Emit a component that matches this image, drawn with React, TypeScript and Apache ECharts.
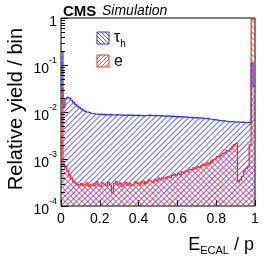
import React, { useEffect, useRef } from 'react';
import * as echarts from 'echarts';

// 100 bins of width 0.01 on E_ECAL / p from 0 to 1
const binWidth = 0.01;

const tauValues: number[] = [
  0.19, 0.0125, 0.019, 0.0205, 0.0195, 0.0178, 0.016, 0.0146, 0.0134, 0.0124,
  0.0116, 0.011, 0.0104, 0.0100, 0.0097, 0.0094, 0.0093, 0.0091, 0.0090, 0.0089,
  0.0090, 0.0088, 0.0089, 0.0087, 0.0088, 0.0089, 0.0087, 0.0086, 0.0088, 0.0087,
  0.0086, 0.0087, 0.0085, 0.0086, 0.0087, 0.0085, 0.0086, 0.0084, 0.0085, 0.0086,
  0.0084, 0.0085, 0.0083, 0.0084, 0.0085, 0.0086, 0.0085, 0.0084, 0.0085, 0.0084,
  0.0083, 0.0084, 0.0082, 0.0083, 0.0082, 0.0083, 0.0081, 0.0082, 0.0080, 0.0081,
  0.0079, 0.0080, 0.0079, 0.0078, 0.0079, 0.0077, 0.0076, 0.0077, 0.0075, 0.0076,
  0.0075, 0.0074, 0.0075, 0.0073, 0.0072, 0.0073, 0.0071, 0.0070, 0.0069, 0.0068,
  0.0067, 0.0066, 0.0065, 0.0066, 0.0064, 0.0063, 0.0062, 0.0063, 0.0062, 0.0061,
  0.0062, 0.0061, 0.0060, 0.0061, 0.0060, 0.0059, 0.0060, 0.0060, 0.11, 0.035,
];

const eValues: number[] = [
  0.032, 7.5e-4, 7.0e-4, 5.6e-4, 4.6e-4, 3.9e-4, 3.3e-4, 3.1e-4, 2.9e-4, 2.8e-4,
  3.0e-4, 2.7e-4, 2.9e-4, 3.1e-4, 2.6e-4, 2.9e-4, 3.0e-4, 2.7e-4, 3.3e-4, 2.8e-4,
  2.6e-4, 3.1e-4, 2.9e-4, 2.7e-4, 3.2e-4, 2.8e-4, 1.9e-4, 3.0e-4, 3.3e-4, 2.8e-4,
  3.1e-4, 2.6e-4, 2.9e-4, 3.2e-4, 2.8e-4, 3.0e-4, 2.7e-4, 2.9e-4, 3.3e-4, 3.1e-4,
  2.8e-4, 3.2e-4, 3.4e-4, 3.0e-4, 3.3e-4, 3.6e-4, 3.4e-4, 3.2e-4, 3.7e-4, 3.5e-4,
  3.9e-4, 3.6e-4, 4.0e-4, 3.8e-4, 4.1e-4, 4.3e-4, 4.0e-4, 4.5e-4, 4.8e-4, 4.4e-4,
  5.0e-4, 4.7e-4, 5.3e-4, 5.1e-4, 5.6e-4, 5.4e-4, 6.0e-4, 5.8e-4, 6.5e-4, 6.2e-4,
  6.9e-4, 6.6e-4, 7.2e-4, 7.8e-4, 7.4e-4, 8.3e-4, 8.0e-4, 9.0e-4, 9.6e-4, 1.0e-3,
  1.12e-3, 1.1e-3, 1.2e-3, 1.3e-3, 1.35e-3, 1.5e-3, 1.45e-3, 1.65e-3, 1.85e-3, 2.05e-3,
  2.15e-3, 3.3e-4, 3.6e-4, 4.3e-4, 5.5e-4, 6.2e-4, 6.8e-4, 2.0e-3, 0.95, 0.95,
];

const xTicks = [0, 0.2, 0.4, 0.6, 0.8, 1];
const yMinorMultipliers = [2, 3, 4, 5, 6, 7, 8, 9];
const yDecades = [1e-4, 1e-3, 1e-2, 1e-1];

const FONT = 'Liberation Sans';
const BLUE = '#2b2bff';
const RED = '#ff2020';

function histPoints(vals: number[]) {
  const pts: number[][] = vals.map((v, i) => [+(i * binWidth).toFixed(2), v]);
  pts.push([+(vals.length * binWidth).toFixed(2), vals[vals.length - 1]]);
  return pts;
}

function hatch(x0: number, y0: number, w: number, h: number, s: number, dir: 'back' | 'fwd', color: string) {
  const out: any[] = [];
  for (let c = -h; c <= w; c += s) {
    const tmin = Math.max(0, -c);
    const tmax = Math.min(h, w - c);
    if (tmax - tmin <= 0.2) continue;
    const xa = x0 + c + tmin;
    const xb = x0 + c + tmax;
    const ya = dir === 'back' ? y0 + tmin : y0 + h - tmin;
    const yb = dir === 'back' ? y0 + tmax : y0 + h - tmax;
    out.push({
      type: 'line',
      shape: { x1: xa, y1: ya, x2: xb, y2: yb },
      style: { stroke: color, lineWidth: 0.8 },
      silent: true,
    });
  }
  return out;
}

export default function App() {
  const ref = useRef<HTMLDivElement>(null);
  useEffect(() => {
    if (!ref.current) return;
    const chart = echarts.init(ref.current, null, { renderer: 'svg' });
    const yMinor: number[][] = [];
    yDecades.forEach((d) => yMinorMultipliers.forEach((m) => yMinor.push([0, d * m])));

    const legendBlue = { x: 97, y: 32, w: 12, h: 12 };
    const legendRed = { x: 97, y: 55, w: 12, h: 12 };

    chart.setOption({
      animation: false,
      grid: {
        left: 61, top: 18, width: 194, height: 188,
        show: true, borderColor: '#000', borderWidth: 1,
        outerBoundsMode: 'none',
      },
      xAxis: {
        type: 'value', min: 0, max: 1, interval: 0.2,
        axisLine: { show: false },
        axisTick: { show: true, inside: true, length: 6, lineStyle: { color: '#000' } },
        splitLine: { show: false },
        axisLabel: {
          color: '#000', fontSize: 14, fontFamily: FONT, margin: 5,
          formatter: (v: number) => (xTicks.indexOf(+v.toFixed(1)) >= 0 ? String(+v.toFixed(1)) : ''),
        },
      },
      yAxis: {
        type: 'log', min: 1e-4, max: 1, logBase: 10,
        axisLine: { show: false },
        axisTick: { show: true, inside: true, length: 7, lineStyle: { color: '#000' } },
        splitLine: { show: false },
        axisLabel: {
          color: '#000', margin: 4,
          formatter: (v: number) => {
            const e = Math.round(Math.log10(v));
            return e === 0 ? '{b|1}' : `{b|10}{s|${e}}`;
          },
          rich: {
            b: { fontSize: 14, fontFamily: FONT, color: '#000', lineHeight: 19, verticalAlign: 'bottom' },
            s: { fontSize: 9, fontFamily: FONT, color: '#000', verticalAlign: 'top' },
          },
        },
      },
      series: [
        {
          type: 'line', name: 'tau', step: 'end', symbol: 'none',
          data: histPoints(tauValues),
          lineStyle: { color: BLUE, width: 1.2 },
          itemStyle: {
            color: BLUE,
            decal: {
              symbol: 'rect', symbolSize: 1, dashArrayX: [1, 0], dashArrayY: [1, 2.7],
              rotation: -Math.PI / 4, color: 'rgba(40,40,255,0.7)', backgroundColor: null,
            },
          },
          areaStyle: { origin: 'start', color: 'rgba(0,0,0,0)', opacity: 1 },
          z: 2,
        },
        {
          type: 'line', name: 'e', step: 'end', symbol: 'none',
          data: histPoints(eValues),
          lineStyle: { color: RED, width: 1.2 },
          itemStyle: {
            color: RED,
            decal: {
              symbol: 'rect', symbolSize: 1, dashArrayX: [1, 0], dashArrayY: [1, 2.7],
              rotation: Math.PI / 4, color: 'rgba(255,40,40,0.7)', backgroundColor: null,
            },
          },
          areaStyle: { origin: 'start', color: 'rgba(0,0,0,0)', opacity: 1 },
          z: 3,
        },
        {
          type: 'custom', name: 'yMinorTicks', data: yMinor, z: 5, silent: true,
          renderItem: (params: any, api: any) => {
            const p = api.coord([0, api.value(1)]);
            const y = Math.round(p[1]) + 0.5;
            return {
              type: 'line',
              shape: { x1: p[0], y1: y, x2: p[0] + 4, y2: y },
              style: { stroke: '#000', lineWidth: 1 },
            };
          },
        },
      ],
      graphic: [
        {
          type: 'text', x: 63, y: 10,
          style: { text: 'CMS', fontSize: 15, fontWeight: 'bold', fontFamily: FONT, fill: '#000', textAlign: 'left', textVerticalAlign: 'middle' },
        },
        {
          type: 'text', x: 102, y: 10,
          style: { text: 'Simulation', fontSize: 14, fontStyle: 'italic', fontFamily: FONT, fill: '#000', textAlign: 'left', textVerticalAlign: 'middle' },
        },
        {
          type: 'text', x: 15, y: 109, rotation: Math.PI / 2,
          style: { text: 'Relative yield / bin', fontSize: 20, fontFamily: FONT, fill: '#000', textAlign: 'center', textVerticalAlign: 'middle' },
        },
        {
          type: 'text', x: 254, y: 245,
          style: {
            text: '{a|E}{b|ECAL}{a| / p}',
            textAlign: 'right', textVerticalAlign: 'middle',
            rich: {
              a: { fontSize: 18, fontFamily: FONT, color: '#000', lineHeight: 21, verticalAlign: 'top' },
              b: { fontSize: 11, fontFamily: FONT, color: '#000', verticalAlign: 'bottom' },
            },
          },
        },
        {
          type: 'rect', shape: { x: legendBlue.x, y: legendBlue.y, width: legendBlue.w, height: legendBlue.h },
          style: { fill: 'none', stroke: BLUE, lineWidth: 1 },
        },
        ...hatch(legendBlue.x, legendBlue.y, legendBlue.w, legendBlue.h, 4, 'back', BLUE),
        {
          type: 'rect', shape: { x: legendRed.x, y: legendRed.y, width: legendRed.w, height: legendRed.h },
          style: { fill: 'none', stroke: RED, lineWidth: 1 },
        },
        ...hatch(legendRed.x, legendRed.y, legendRed.w, legendRed.h, 4, 'fwd', RED),
        {
          type: 'text', x: 114, y: 38,
          style: {
            text: '{a|τ}{b|h}', textAlign: 'left', textVerticalAlign: 'middle',
            rich: {
              a: { fontSize: 16, fontFamily: FONT, color: '#000', lineHeight: 20, verticalAlign: 'top' },
              b: { fontSize: 10, fontFamily: FONT, color: '#000', verticalAlign: 'bottom' },
            },
          },
        },
        {
          type: 'text', x: 114, y: 60,
          style: { text: 'e', fontSize: 16, fontFamily: FONT, fill: '#000', textAlign: 'left', textVerticalAlign: 'middle' },
        },
      ],
    });
    return () => chart.dispose();
  }, []);
  return <div ref={ref} style={{ position: 'fixed', left: 0, top: 0, width: 266, height: 258 }} />;
}
